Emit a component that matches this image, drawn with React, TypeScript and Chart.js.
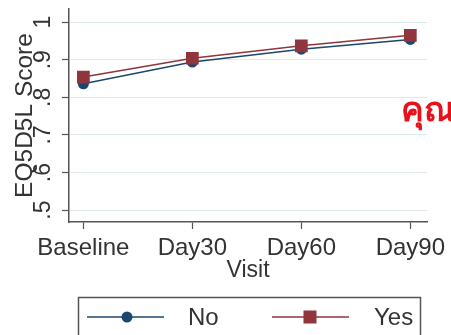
import React, { useEffect, useRef } from "react";
import { Chart, registerables } from "chart.js";

Chart.register(...registerables);

const categories = ["Baseline", "Day30", "Day60", "Day90"];
const noValues = [0.836, 0.894, 0.928, 0.954];
const yesValues = [0.854, 0.904, 0.937, 0.965];
const yTickValues = [0.5, 0.6, 0.7, 0.8, 0.9, 1];
const yTickLabels = [".5", ".6", ".7", ".8", ".9", "1"];
const seriesNames = ["No", "Yes"];
const yTitle = "EQ5D5L Score";
const xTitle = "Visit";
const watermark = "คุณ";

const NAVY = "#1a476f";
const MAROON = "#90353b";
const TEXT = "#333333";
const AXIS = "#555555";
const FONT = "'Liberation Sans', Arial, sans-serif";

const overlay = {
  id: "overlay",
  afterDraw(chart: any) {
    const ctx = chart.ctx;
    const ys = chart.scales.y;
    ctx.save();
    ctx.fillStyle = TEXT;
    ctx.font = `23px ${FONT}`;
    ctx.textAlign = "center";
    ctx.textBaseline = "alphabetic";
    ys.ticks.forEach((t: any) => {
      const idx = yTickValues.findIndex((v) => Math.abs(v - t.value) < 1e-6);
      if (idx < 0) return;
      const py = ys.getPixelForValue(t.value);
      ctx.save();
      ctx.translate(50, py);
      ctx.rotate(-Math.PI / 2);
      ctx.fillText(yTickLabels[idx], 0, 0);
      ctx.restore();
    });
    ctx.restore();

    // legend
    ctx.save();
    ctx.strokeStyle = AXIS;
    ctx.lineWidth = 1.5;
    ctx.strokeRect(78.5, 297.5, 342, 60);
    const rowY = 317;
    ctx.strokeStyle = NAVY;
    ctx.lineWidth = 1.5;
    ctx.beginPath();
    ctx.moveTo(87, rowY);
    ctx.lineTo(164, rowY);
    ctx.stroke();
    ctx.fillStyle = NAVY;
    ctx.beginPath();
    ctx.arc(127, rowY, 5.5, 0, Math.PI * 2);
    ctx.fill();
    ctx.strokeStyle = MAROON;
    ctx.beginPath();
    ctx.moveTo(272, rowY);
    ctx.lineTo(349, rowY);
    ctx.stroke();
    ctx.fillStyle = MAROON;
    ctx.fillRect(303.5, rowY - 6.5, 13, 13);
    ctx.fillStyle = TEXT;
    ctx.font = `24px ${FONT}`;
    ctx.textAlign = "left";
    ctx.textBaseline = "alphabetic";
    ctx.fillText(seriesNames[0], 188, 325);
    ctx.fillText(seriesNames[1], 374, 325);
    ctx.restore();

    // red Thai text
    ctx.save();
    ctx.fillStyle = "#e8101b";
    ctx.font = `bold 34px 'Noto Sans', 'DejaVu Sans', sans-serif`;
    ctx.textAlign = "left";
    ctx.textBaseline = "alphabetic";
    ctx.fillText(watermark, 401, 121);
    ctx.restore();
  },
};

export default function App() {
  const ref = useRef<HTMLCanvasElement | null>(null);
  useEffect(() => {
    if (!ref.current) return;
    const chart = new Chart(ref.current, {
      type: "line",
      data: {
        datasets: [
          {
            label: seriesNames[0],
            data: noValues.map((v, i) => ({ x: i, y: v })),
            borderColor: NAVY,
            backgroundColor: NAVY,
            borderWidth: 1.5,
            pointStyle: "circle",
            pointRadius: 5.5,
            pointBorderWidth: 0,
            order: 1,
          },
          {
            label: seriesNames[1],
            data: yesValues.map((v, i) => ({ x: i, y: v })),
            borderColor: MAROON,
            backgroundColor: MAROON,
            borderWidth: 1.5,
            pointStyle: "rect",
            pointRadius: 9,
            pointBorderWidth: 0,
            order: 0,
          },
        ],
      },
      options: {
        animation: false,
        responsive: true,
        maintainAspectRatio: false,
        layout: { padding: { left: 11, top: 6, right: 21, bottom: 51 } },
        plugins: { legend: { display: false }, tooltip: { enabled: false } },
        scales: {
          x: {
            type: "linear",
            min: -0.132,
            max: 3.155,
            afterBuildTicks: (s: any) => {
              s.ticks = categories.map((_, i) => ({ value: i }));
            },
            afterFit: (s: any) => {
              s.height = 62;
            },
            ticks: {
              callback: (v: any) => categories[v] ?? "",
              font: { size: 24, family: FONT },
              color: TEXT,
              padding: 5,
              maxRotation: 0,
              minRotation: 0,
              autoSkip: false,
            },
            grid: { drawOnChartArea: false, drawTicks: true, tickLength: 7, tickColor: AXIS, tickWidth: 1.2 },
            border: { display: true, color: AXIS, width: 1.5 },
            title: { display: true, text: xTitle, font: { size: 23, family: FONT }, color: TEXT, padding: 0 },
          },
          y: {
            min: 0.4685,
            max: 1.035,
            afterBuildTicks: (s: any) => {
              s.ticks = yTickValues.map((v) => ({ value: v }));
            },
            afterFit: (s: any) => {
              s.width = 58;
            },
            ticks: { display: false },
            grid: { color: "#e0e9ec", lineWidth: 1, drawTicks: true, tickLength: 7, tickColor: AXIS, tickWidth: 1.2 },
            border: { display: true, color: AXIS, width: 1.5 },
            title: { display: true, text: yTitle, font: { size: 24.5, family: FONT }, color: TEXT, padding: 0 },
          },
        },
      },
      plugins: [overlay],
    } as any);
    return () => chart.destroy();
  }, []);
  return (
    <div style={{ position: "absolute", left: 0, top: 0, width: 451, height: 335, background: "#fff" }}>
      <canvas ref={ref} />
    </div>
  );
}
